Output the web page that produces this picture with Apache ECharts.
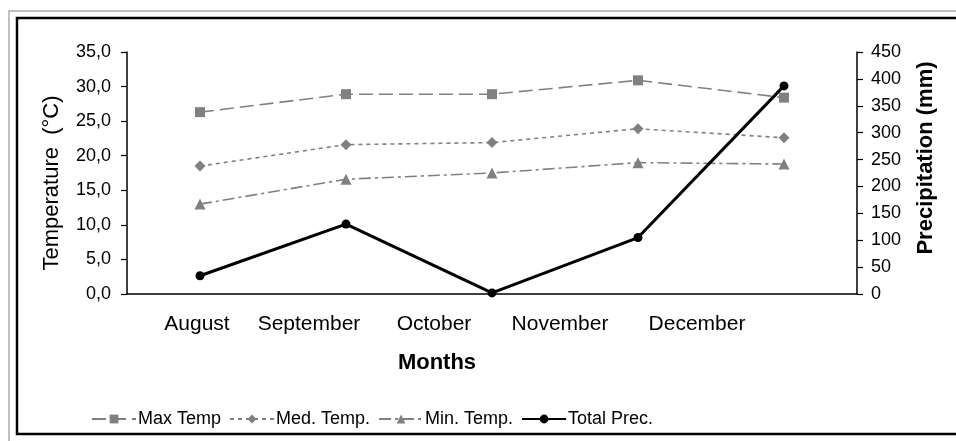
<!DOCTYPE html>
<html>
<head>
<meta charset="utf-8">
<script src="https://cdn.jsdelivr.net/npm/echarts@6/dist/echarts.min.js"></script>
<style>
  html, body { margin: 0; padding: 0; background: #fff; }
  #section1 { width: 956px; height: 441px; }
</style>
</head>
<body>
<div id="section1"></div>
<script>
var section1 = echarts.init(document.getElementById('section1'));

// data
var months = ['August', 'September', 'October', 'November', 'December'];
var maxTemp = [26.3, 28.9, 28.9, 30.9, 28.4];
var medTemp = [18.5, 21.6, 21.9, 23.9, 22.6];
var minTemp = [13.0, 16.6, 17.5, 19.0, 18.8];
var totalPrec = [34, 130, 2, 105, 387];

// Excel put the month labels left of their points; shift them the same way
var labelShift = [6, 74, 116, 156, 174];
var richLabels = {};
labelShift.forEach(function (p, i) {
    richLabels['l' + i] = { padding: [0, p, 0, 0], fontSize: 21, color: '#000', fontFamily: 'Liberation Sans' };
});

var font = 'Liberation Sans';
var grey = '#808080';

var option1 = {
    animation: false,
    backgroundColor: '#fff',
    textStyle: { fontFamily: font },
    graphic: [
        { type: 'rect', shape: { x: 9, y: 11, width: 960, height: 440 }, style: { fill: 'none', stroke: '#c0c0c0', lineWidth: 2 }, silent: true },
        { type: 'rect', shape: { x: 17, y: 18, width: 960, height: 416 }, style: { fill: 'none', stroke: '#000', lineWidth: 2.5 }, silent: true }
    ],
    grid: { left: 127, right: 99, top: 52, bottom: 147 },
    legend: {
        bottom: 8,
        left: 86,
        itemWidth: 44,
        itemHeight: 11,
        itemGap: 8,
        data: ['Max Temp', 'Med. Temp.', 'Min. Temp.', 'Total Prec.'],
        textStyle: { fontSize: 18, color: '#000', fontFamily: font, padding: [0, 0, 0, -3] }
    },
    xAxis: {
        type: 'category',
        data: months,
        boundaryGap: true,
        name: 'Months',
        nameLocation: 'middle',
        nameGap: 58,
        nameTextStyle: { fontSize: 22, fontWeight: 'bold', color: '#000', padding: [0, 110, 0, 0] },
        axisLine: { lineStyle: { color: '#000', width: 1.5 } },
        axisTick: { alignWithLabel: false, length: 6, lineStyle: { color: '#000', width: 1.2 } },
        axisLabel: {
            margin: 20,
            formatter: function (v, i) { return '{l' + i + '|' + v + '}'; },
            rich: richLabels
        },
        splitLine: { show: false }
    },
    yAxis: [
        {
            type: 'value',
            min: 0,
            max: 35,
            interval: 5,
            name: 'Temperature  (°C)',
            nameLocation: 'middle',
            nameGap: 64,
            nameTextStyle: { fontSize: 22, color: '#000', padding: [0, 20, 0, 0] },
            axisLine: { show: true, lineStyle: { color: '#000', width: 1.5 } },
            axisTick: { show: true, length: 6, lineStyle: { color: '#000', width: 1.2 } },
            axisLabel: {
                fontSize: 18,
                color: '#000',
                margin: 16,
                formatter: function (v) { return v.toFixed(1).replace('.', ','); }
            },
            splitLine: { show: false }
        },
        {
            type: 'value',
            min: 0,
            max: 450,
            interval: 50,
            position: 'right',
            name: 'Precipitation (mm)',
            nameLocation: 'middle',
            nameGap: 58,
            nameTextStyle: { fontSize: 22, fontWeight: 'bold', color: '#000', padding: [0, 0, 0, 30] },
            axisLine: { show: true, lineStyle: { color: '#000', width: 1.5 } },
            axisTick: { show: true, length: 6, lineStyle: { color: '#000', width: 1.2 } },
            axisLabel: { fontSize: 18, color: '#000', margin: 14 },
            splitLine: { show: false }
        }
    ],
    series: [
        {
            name: 'Max Temp',
            type: 'line',
            data: maxTemp,
            yAxisIndex: 0,
            symbol: 'rect',
            symbolSize: 10,
            itemStyle: { color: grey },
            lineStyle: { color: grey, width: 1.6, type: [14, 6] }
        },
        {
            name: 'Med. Temp.',
            type: 'line',
            data: medTemp,
            yAxisIndex: 0,
            symbol: 'diamond',
            symbolSize: 11,
            itemStyle: { color: grey },
            lineStyle: { color: grey, width: 1.6, type: [4, 4] }
        },
        {
            name: 'Min. Temp.',
            type: 'line',
            data: minTemp,
            yAxisIndex: 0,
            symbol: 'triangle',
            symbolSize: 11,
            itemStyle: { color: grey },
            lineStyle: { color: grey, width: 1.6, type: [12, 4, 3, 4] }
        },
        {
            name: 'Total Prec.',
            type: 'line',
            data: totalPrec,
            yAxisIndex: 1,
            symbol: 'circle',
            symbolSize: 9,
            itemStyle: { color: '#000' },
            lineStyle: { color: '#000', width: 3 }
        }
    ]
};

section1.setOption(option1);
</script>
</body>
</html>
